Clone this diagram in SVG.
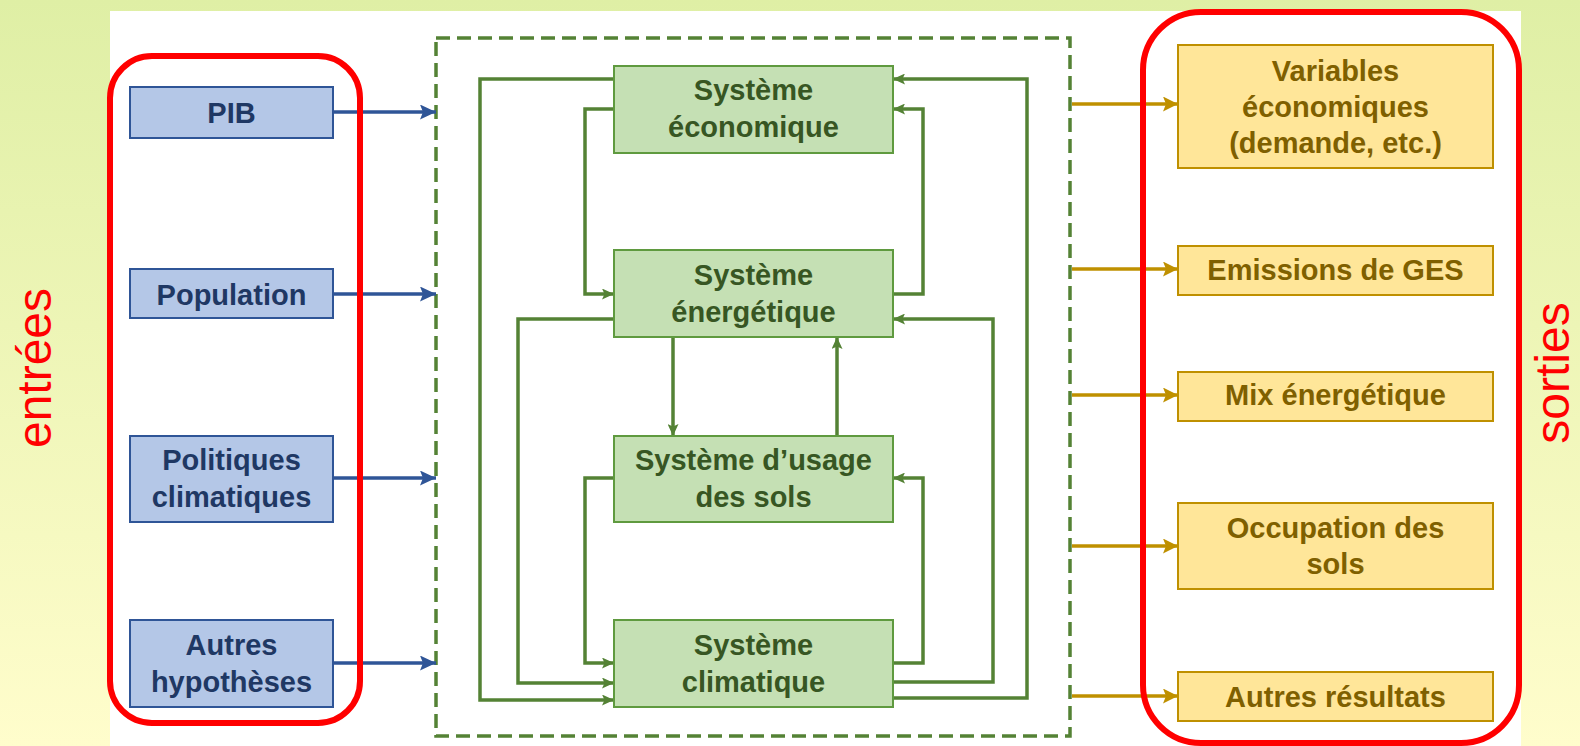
<svg xmlns="http://www.w3.org/2000/svg" width="1580" height="746" viewBox="0 0 1580 746">
  <defs>
    <linearGradient id="bg" x1="0" y1="0" x2="0" y2="1">
      <stop offset="0" stop-color="#dfefa5"/>
      <stop offset="1" stop-color="#fffdcc"/>
    </linearGradient>
    <marker id="ah-green" markerUnits="userSpaceOnUse" viewBox="0 0 12 11" refX="12" refY="5.5" markerWidth="12" markerHeight="11" orient="auto">
      <path d="M0,0 L12,5.5 L0,11 L2.5,5.5 z" fill="#548235"/>
    </marker>
    <marker id="ah-blue" markerUnits="userSpaceOnUse" viewBox="0 0 16 15" refX="16" refY="7.5" markerWidth="16" markerHeight="15" orient="auto">
      <path d="M0,0 L16,7.5 L0,15 L3,7.5 z" fill="#2f5597"/>
    </marker>
    <marker id="ah-gold" markerUnits="userSpaceOnUse" viewBox="0 0 15 15" refX="15" refY="7.5" markerWidth="15" markerHeight="15" orient="auto">
      <path d="M0,0 L15,7.5 L0,15 L3,7.5 z" fill="#bf9000"/>
    </marker>
  </defs>
  <style>
    .lbl { font-family: "Liberation Sans", Arial, sans-serif; font-weight: bold; font-size: 29px; text-anchor: middle; }
    .side { font-family: "Liberation Sans", Arial, sans-serif; font-size: 48px; fill: #ff0000; text-anchor: middle; }
    .in rect { fill: #b4c7e7; stroke: #2f5597; stroke-width: 2; }
    .in text { fill: #1f3864; }
    .sys rect { fill: #c5e0b4; stroke: #5f9a3f; stroke-width: 2; }
    .sys text { fill: #375623; }
    .out rect { fill: #ffe699; stroke: #bf9000; stroke-width: 2; }
    .out text { fill: #7f6000; }
    .frame { fill: none; stroke: #ff0000; stroke-width: 6; }
    .g { fill: none; stroke: #548235; stroke-width: 3.5; marker-end: url(#ah-green); }
    .b { fill: none; stroke: #2f5597; stroke-width: 3.5; marker-end: url(#ah-blue); }
    .y { fill: none; stroke: #bf9000; stroke-width: 3.5; marker-end: url(#ah-gold); }
  </style>

  <!-- background and white panel -->
  <rect x="0" y="0" width="1580" height="746" fill="url(#bg)"/>
  <rect x="110" y="11" width="1411" height="735" fill="#ffffff"/>

  <!-- side captions -->
  <text class="side" transform="translate(51,368) rotate(-90)">entrées</text>
  <text class="side" transform="translate(1569,373) rotate(-90)">sorties</text>

  <!-- model boundary -->
  <rect id="model-boundary" x="436" y="38" width="634" height="698" fill="none" stroke="#548235" stroke-width="3.5" stroke-dasharray="14 7"/>

  <!-- connectors -->
  <g id="connectors">
    <!-- inputs -->
    <path class="b" d="M333,112 H436"/>
    <path class="b" d="M333,294 H436"/>
    <path class="b" d="M333,478 H436"/>
    <path class="b" d="M333,663 H436"/>
    <!-- coupling between subsystems -->
    <path class="g" d="M614,79 H480 V700 H614"/>
    <path class="g" d="M614,109 H585 V294 H614"/>
    <path class="g" d="M614,319 H518 V683 H614"/>
    <path class="g" d="M614,478 H585 V663 H614"/>
    <path class="g" d="M673,337 V436"/>
    <path class="g" d="M837,436 V337"/>
    <path class="g" d="M893,698 H1027 V79 H893"/>
    <path class="g" d="M893,294 H923 V109 H893"/>
    <path class="g" d="M893,682 H993 V319 H893"/>
    <path class="g" d="M893,663 H923 V478 H893"/>
    <!-- outputs -->
    <path class="y" d="M1072,104 H1178"/>
    <path class="y" d="M1072,269 H1178"/>
    <path class="y" d="M1072,395 H1178"/>
    <path class="y" d="M1072,546 H1178"/>
    <path class="y" d="M1072,696 H1178"/>
  </g>

  <!-- inputs -->
  <g id="in-pib" class="in lbl">
    <rect x="130" y="87" width="203" height="51"/>
    <text x="231.5" y="123">PIB</text>
  </g>
  <g id="in-population" class="in lbl">
    <rect x="130" y="269" width="203" height="49"/>
    <text x="231.5" y="305">Population</text>
  </g>
  <g id="in-politiques" class="in lbl">
    <rect x="130" y="436" width="203" height="86"/>
    <text x="231.5" y="470">Politiques</text>
    <text x="231.5" y="507">climatiques</text>
  </g>
  <g id="in-autres" class="in lbl">
    <rect x="130" y="620" width="203" height="87"/>
    <text x="231.5" y="655">Autres</text>
    <text x="231.5" y="692">hypothèses</text>
  </g>

  <!-- subsystems -->
  <g id="sys-economique" class="sys lbl">
    <rect x="614" y="66" width="279" height="87"/>
    <text x="753.5" y="100">Système</text>
    <text x="753.5" y="137">économique</text>
  </g>
  <g id="sys-energetique" class="sys lbl">
    <rect x="614" y="250" width="279" height="87"/>
    <text x="753.5" y="285">Système</text>
    <text x="753.5" y="322">énergétique</text>
  </g>
  <g id="sys-usage-sols" class="sys lbl">
    <rect x="614" y="436" width="279" height="86"/>
    <text x="753.5" y="470">Système d’usage</text>
    <text x="753.5" y="507">des sols</text>
  </g>
  <g id="sys-climatique" class="sys lbl">
    <rect x="614" y="620" width="279" height="87"/>
    <text x="753.5" y="655">Système</text>
    <text x="753.5" y="692">climatique</text>
  </g>

  <!-- outputs -->
  <g id="out-variables" class="out lbl">
    <rect x="1178" y="45" width="315" height="123"/>
    <text x="1335.5" y="81">Variables</text>
    <text x="1335.5" y="117">économiques</text>
    <text x="1335.5" y="153">(demande, etc.)</text>
  </g>
  <g id="out-emissions" class="out lbl">
    <rect x="1178" y="246" width="315" height="49"/>
    <text x="1335.5" y="280">Emissions de GES</text>
  </g>
  <g id="out-mix" class="out lbl">
    <rect x="1178" y="372" width="315" height="49"/>
    <text x="1335.5" y="405">Mix énergétique</text>
  </g>
  <g id="out-occupation" class="out lbl">
    <rect x="1178" y="503" width="315" height="86"/>
    <text x="1335.5" y="538">Occupation des</text>
    <text x="1335.5" y="574">sols</text>
  </g>
  <g id="out-autres" class="out lbl">
    <rect x="1178" y="672" width="315" height="49"/>
    <text x="1335.5" y="707">Autres résultats</text>
  </g>

  <!-- input / output groupings -->
  <rect id="group-entrees" class="frame" x="110" y="56" width="250" height="667" rx="42" ry="42"/>
  <rect id="group-sorties" class="frame" x="1143" y="12" width="376" height="731" rx="58" ry="58"/>
</svg>
